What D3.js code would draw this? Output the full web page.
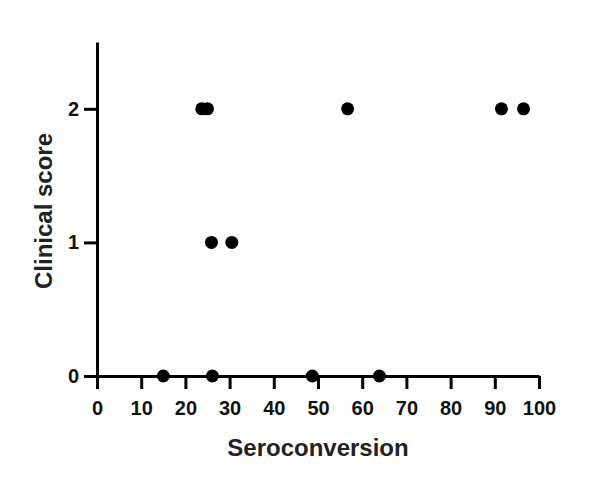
<!DOCTYPE html>
<html>
<head>
<meta charset="utf-8">
<script src="https://cdn.jsdelivr.net/npm/d3@7"></script>
<style>
  body { margin: 0; background: #fff; }
  text { font-family: "Liberation Sans", Arial, sans-serif; font-weight: bold; }
</style>
</head>
<body>
<div id="chart"></div>
<script>
// Data
var seroconversion = [23.7, 25.0, 56.7, 91.5, 96.5, 25.9, 30.5, 15.0, 26.1, 48.7, 63.9];
var clinicalScore = [2, 2, 2, 2, 2, 1, 1, 0, 0, 0, 0];
var xTicks = [0, 10, 20, 30, 40, 50, 60, 70, 80, 90, 100];
var yTicks = [0, 1, 2];

var width = 600;
var height = 485;
var margin = { top: 42, right: 61, bottom: 109, left: 97 };
var innerW = width - margin.left - margin.right;
var innerH = height - margin.top - margin.bottom;

var x = d3.scaleLinear().domain([0, 100]).range([0, innerW]);
var y = d3.scaleLinear().domain([0, 2.5]).range([innerH, 0]);

var svg = d3.select('#chart')
  .append('svg')
  .attr('width', width)
  .attr('height', height);

var main = svg.append('g')
  .attr('transform', 'translate(' + margin.left + ',' + margin.top + ')');

// Y axis
var yAxis = main.append('g')
  .call(d3.axisLeft(y).tickValues(yTicks).tickSize(13).tickSizeOuter(0).tickPadding(5).tickFormat(d3.format('d')));

// X axis
var xAxis = main.append('g')
  .attr('transform', 'translate(0,' + innerH + ')')
  .call(d3.axisBottom(x).tickValues(xTicks).tickSize(13).tickSizeOuter(0).tickPadding(12));

[xAxis, yAxis].forEach(function(ax) {
  ax.select('.domain').attr('stroke', '#000').attr('stroke-width', 3);
  ax.selectAll('.tick line').attr('stroke', '#000').attr('stroke-width', 3);
  ax.selectAll('.tick text')
    .attr('fill', '#111')
    .style('font-size', '20px')
    .style('font-family', '"Liberation Sans", Arial, sans-serif')
    .style('font-weight', 'bold');
});

// Points
var points = seroconversion.map(function(v, i) {
  return { x: v, y: clinicalScore[i] };
});

main.selectAll('circle.pt')
  .data(points)
  .enter()
  .append('circle')
  .attr('class', 'pt')
  .attr('cx', function(d) { return x(d.x); })
  .attr('cy', function(d) { return y(d.y); })
  .attr('r', 6.5)
  .attr('fill', '#000');

// Axis titles
main.append('text')
  .attr('x', innerW / 2)
  .attr('y', innerH + 80)
  .attr('text-anchor', 'middle')
  .style('font-size', '24px')
  .attr('fill', '#222')
  .text('Seroconversion');

main.append('text')
  .attr('transform', 'translate(' + (-45) + ',' + (innerH / 2 + 2) + ') rotate(-90)')
  .attr('text-anchor', 'middle')
  .style('font-size', '24px')
  .attr('fill', '#222')
  .text('Clinical score');
</script>
</body>
</html>
